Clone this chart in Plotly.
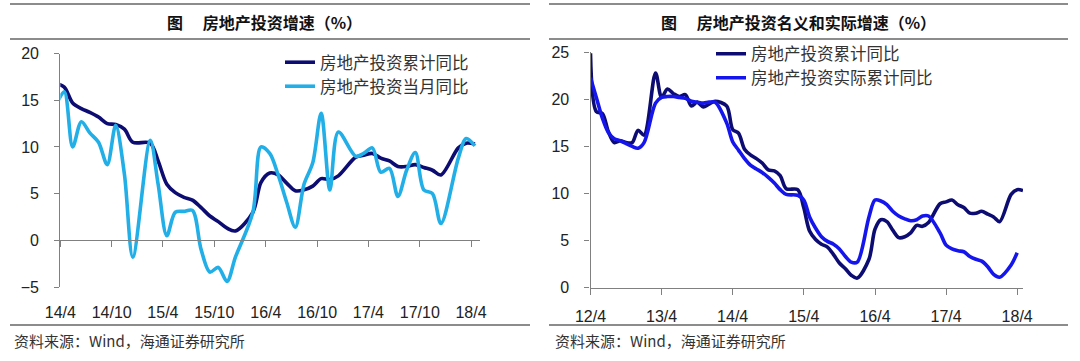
import plotly.graph_objects as go

W, H = 1080, 361

# ---------------- data (left chart) ----------------
left_months = [
    "2014-03", "2014-04", "2014-05", "2014-06", "2014-07", "2014-08", "2014-09", "2014-10", "2014-11", "2014-12",
    "2015-02", "2015-03", "2015-04", "2015-05", "2015-06", "2015-07", "2015-08", "2015-09", "2015-10", "2015-11", "2015-12",
    "2016-02", "2016-03", "2016-04", "2016-05", "2016-06", "2016-07", "2016-08", "2016-09", "2016-10", "2016-11", "2016-12",
    "2017-02", "2017-03", "2017-04", "2017-05", "2017-06", "2017-07", "2017-08", "2017-09", "2017-10", "2017-11", "2017-12",
    "2018-02", "2018-03", "2018-04",
]
left_cumulative = [
    16.8, 16.4, 14.7, 14.1, 13.7, 13.2, 12.5, 12.4, 11.9, 10.5,
    10.4, 8.5, 6.0, 5.1, 4.6, 4.3, 3.5, 2.6, 2.0, 1.3, 1.0,
    3.0, 6.2, 7.2, 7.0, 6.1, 5.3, 5.4, 5.8, 6.6, 6.5, 6.9,
    8.9, 9.1, 9.3, 8.8, 8.5, 7.9, 7.9, 8.1, 7.8, 7.5, 7.0,
    9.9, 10.4, 10.3,
]
left_monthly = [
    14.3, 15.9, 10.0, 12.7, 11.5, 10.5, 8.1, 12.3, 7.1, -1.8,
    10.7, 6.0, 0.5, 3.0, 3.1, 3.2, -1.0, -3.4, -2.9, -4.4, -1.8,
    3.0, 10.0, 9.3, 7.0, 4.0, 1.4, 6.0, 8.3, 13.6, 5.4, 11.6,
    9.0, 9.3, 9.9, 7.3, 7.7, 4.7, 7.5, 9.4, 5.4, 5.0, 1.8,
    8.8, 10.9, 10.1,
]
left_tickvals = ["2014-04-01", "2014-10-01", "2015-04-01", "2015-10-01", "2016-04-01",
                 "2016-10-01", "2017-04-01", "2017-10-01", "2018-04-01"]
left_ticktext = ["14/4", "14/10", "15/4", "15/10", "16/4", "16/10", "17/4", "17/10", "18/4"]

# ---------------- data (right chart) ----------------
right_months = [
    "2012-04", "2012-05", "2012-06", "2012-07", "2012-08", "2012-09", "2012-10", "2012-11", "2012-12", "2013-01",
    "2013-03", "2013-04", "2013-05", "2013-06", "2013-07", "2013-08", "2013-09", "2013-10", "2013-11", "2013-12", "2014-01",
    "2014-03", "2014-04", "2014-05", "2014-06", "2014-07", "2014-08", "2014-09", "2014-10", "2014-11", "2014-12", "2015-01",
    "2015-03", "2015-04", "2015-05", "2015-06", "2015-07", "2015-08", "2015-09", "2015-10", "2015-11", "2015-12", "2016-01",
    "2016-03", "2016-04", "2016-05", "2016-06", "2016-07", "2016-08", "2016-09", "2016-10", "2016-11", "2016-12", "2017-01",
    "2017-03", "2017-04", "2017-05", "2017-06", "2017-07", "2017-08", "2017-09", "2017-10", "2017-11", "2017-12", "2018-01",
    "2018-03", "2018-04", "2018-05",
]
right_nominal = [
    24.9, 18.7, 18.5, 16.6, 15.4, 15.6, 15.4, 15.4, 16.7, 16.2,
    22.8, 20.2, 21.1, 20.6, 20.3, 20.5, 19.3, 19.7, 19.2, 19.5, 19.8,
    19.3, 16.8, 16.4, 14.7, 14.1, 13.7, 13.2, 12.5, 12.4, 11.9, 10.5,
    10.4, 8.5, 6.0, 5.1, 4.6, 4.3, 3.5, 2.6, 2.0, 1.3, 1.0,
    3.0, 6.2, 7.2, 7.0, 6.1, 5.3, 5.4, 5.8, 6.6, 6.5, 6.9,
    8.9, 9.1, 9.3, 8.8, 8.5, 7.9, 7.9, 8.1, 7.8, 7.5, 7.0,
    9.9, 10.4, 10.3,
]
right_real = [
    22.3, 20.2, 18.0, 16.5, 15.8, 15.6, 15.3, 15.0, 14.8, 15.4,
    19.6, 20.2, 20.3, 20.3, 20.2, 20.1, 19.8, 19.7, 19.6, 19.7, 19.7,
    17.5, 15.5, 14.6, 13.7, 13.0, 12.6, 12.2, 11.7, 11.1, 10.4, 9.9,
    9.8, 9.3, 7.5, 6.3, 5.4, 4.9, 4.6, 4.1, 3.3, 2.7, 2.7,
    7.5, 9.3, 9.2, 8.8, 8.1, 7.6, 7.3, 7.1, 7.2, 7.6, 7.6,
    5.8, 4.5, 4.1, 3.9, 3.8, 3.3, 3.0, 2.8, 2.2, 1.4, 1.1,
    2.4, 3.7, None,
]
right_tickvals = ["2012-04-01", "2013-04-01", "2014-04-01", "2015-04-01",
                  "2016-04-01", "2017-04-01", "2018-04-01"]
right_ticktext = ["12/4", "13/4", "14/4", "15/4", "16/4", "17/4", "18/4"]

left_title = "图　 房地产投资增速（%）"
right_title = "图　 房地产投资名义和实际增速（%）"
source_text = "资料来源：Wind，海通证券研究所"
left_names = ["房地产投资累计同比", "房地产投资当月同比"]
right_names = ["房地产投资累计同比", "房地产投资实际累计同比"]

# ---------------- styling ----------------
NAVY = "#0c0c72"
SKY = "#22aee6"
BLUE = "#1515ee"
AXIS = "#808080"
RULE = "#8c8c8c"
TXT = "#222222"
CJK = "Noto Sans CJK SC"
LAT = "Liberation Sans, Arial, sans-serif"


def px_x(p):
    return p / W


def px_y(p):
    return 1 - p / H


L_X = [px_x(60.3), px_x(480)]
L_Y = [px_y(287), px_y(53.5)]
R_X = [px_x(590.5), px_x(1023)]
R_Y = [px_y(287.5), px_y(52.3)]
L_YR = [-5, 20]
R_YR = [0, 25]

left_x = [m + "-15" for m in left_months]
right_x = [m + "-01" for m in right_months]

fig = go.Figure()
lw = 3.6
fig.add_trace(go.Scatter(x=left_x, y=left_cumulative, name=left_names[0], mode="lines",
                         line=dict(color=NAVY, width=lw, shape="spline", smoothing=0.9),
                         xaxis="x", yaxis="y", legend="legend"))
fig.add_trace(go.Scatter(x=left_x, y=left_monthly, name=left_names[1], mode="lines",
                         line=dict(color=SKY, width=lw, shape="spline", smoothing=0.9),
                         xaxis="x", yaxis="y", legend="legend2"))
# empty helper trace so the zero-line axis (x3) gets drawn
fig.add_trace(go.Scatter(x=left_x, y=[None] * len(left_x), mode="lines", showlegend=False,
                         hoverinfo="skip", xaxis="x3", yaxis="y"))
fig.add_trace(go.Scatter(x=right_x, y=right_nominal, name=right_names[0], mode="lines",
                         line=dict(color=NAVY, width=lw, shape="spline", smoothing=0.9),
                         xaxis="x2", yaxis="y2", legend="legend3"))
fig.add_trace(go.Scatter(x=right_x, y=right_real, name=right_names[1], mode="lines",
                         line=dict(color=BLUE, width=lw, shape="spline", smoothing=0.9),
                         xaxis="x2", yaxis="y2", legend="legend4"))

tickfont = dict(family=LAT, size=16, color=TXT)
left_range = ["2014-04-01", "2018-05-03"]
right_range = ["2012-04-01", "2018-05-01"]

zero_pos = L_Y[0] + (0 - L_YR[0]) / (L_YR[1] - L_YR[0]) * (L_Y[1] - L_Y[0])

common = dict(automargin=False, showgrid=False, zeroline=False)


def legend_at(xp, yp):
    return dict(x=px_x(xp), y=px_y(yp), xanchor="left", yanchor="middle",
                bgcolor="rgba(0,0,0,0)", font=dict(family=CJK, size=16.5, color="#333333"),
                tracegroupgap=0, itemwidth=30)


fig.update_layout(
    template="none",
    width=W, height=H,
    margin=dict(l=0, r=0, t=0, b=0, pad=0, autoexpand=False),
    paper_bgcolor="white", plot_bgcolor="white",
    showlegend=True,
    xaxis=dict(domain=L_X, anchor="y", type="date", range=left_range,
               tickmode="array", tickvals=left_tickvals, ticktext=left_ticktext,
               showline=False, ticks="", tickfont=tickfont, ticklabelstandoff=14, **common),
    xaxis3=dict(overlaying="x", anchor="free", position=zero_pos, type="date", range=left_range,
                tickmode="array", tickvals=left_tickvals, showticklabels=False,
                showline=True, linecolor=AXIS, linewidth=1.2,
                ticks="outside", ticklen=6, tickcolor=AXIS, tickwidth=1.2, **common),
    yaxis=dict(domain=L_Y, anchor="x", range=L_YR, dtick=5, tick0=0,
               showline=True, linecolor=AXIS, linewidth=1.2,
               ticks="outside", ticklen=5, tickcolor=AXIS, tickwidth=1.2,
               tickfont=tickfont, ticklabelstandoff=12, **common),
    xaxis2=dict(domain=R_X, anchor="y2", type="date", range=right_range,
                tickmode="array", tickvals=right_tickvals, ticktext=right_ticktext,
                showline=True, linecolor=AXIS, linewidth=1.2,
                ticks="outside", ticklen=6, tickcolor=AXIS, tickwidth=1.2,
                tickfont=tickfont, ticklabelstandoff=8, **common),
    yaxis2=dict(domain=R_Y, anchor="x2", range=R_YR, dtick=5, tick0=0,
                showline=True, linecolor=AXIS, linewidth=1.2,
                ticks="outside", ticklen=5, tickcolor=AXIS, tickwidth=1.2,
                tickfont=tickfont, ticklabelstandoff=12, **common),
    legend=legend_at(280, 62.5),
    legend2=legend_at(280, 86.5),
    legend3=legend_at(711, 54),
    legend4=legend_at(711, 78),
)

# decorative rules
shapes = []
for x0, x1 in [(10, 530), (549, 1068)]:
    for yy in (4, 39, 325):
        shapes.append(dict(type="line", xref="paper", yref="paper",
                           x0=px_x(x0), x1=px_x(x1), y0=px_y(yy), y1=px_y(yy),
                           line=dict(color=RULE, width=2)))
fig.update_layout(shapes=shapes)

annotations = [
    dict(text="<b>" + left_title + "</b>", x=px_x(264), y=px_y(22), xref="paper", yref="paper",
         xanchor="center", yanchor="middle", showarrow=False,
         font=dict(family=CJK, size=16, color="#111111")),
    dict(text="<b>" + right_title + "</b>", x=px_x(798), y=px_y(22), xref="paper", yref="paper",
         xanchor="center", yanchor="middle", showarrow=False,
         font=dict(family=CJK, size=16, color="#111111")),
    dict(text=source_text, x=px_x(12), y=px_y(340), xref="paper", yref="paper",
         xanchor="left", yanchor="middle", showarrow=False,
         font=dict(family=CJK, size=15, color="#333333")),
    dict(text=source_text, x=px_x(553), y=px_y(340), xref="paper", yref="paper",
         xanchor="left", yanchor="middle", showarrow=False,
         font=dict(family=CJK, size=15, color="#333333")),
]
fig.update_layout(annotations=annotations)

fig.write_html("out.html", config={"displayModeBar": False},
               post_script="document.body.style.margin='0px';")
